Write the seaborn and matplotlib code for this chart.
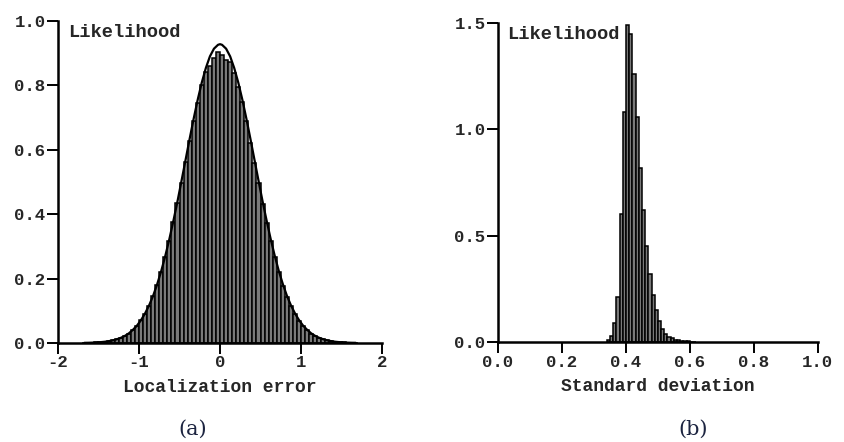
import numpy as np
import pandas as pd
import matplotlib
matplotlib.use("Agg")
import matplotlib.pyplot as plt
import seaborn as sns

# ---------------- data ----------------
# Panel (a): localization error histogram, bins of 0.05 from -1.7 to 1.7
a_bin_width = 0.05
a_bin_start = -1.7
a_left_heights = [0.0004, 0.0006, 0.0010, 0.0016, 0.0025, 0.0037, 0.0055, 0.0079,
                  0.011, 0.015, 0.021, 0.029, 0.040, 0.053, 0.070, 0.090, 0.115,
                  0.145, 0.180, 0.220, 0.268, 0.316, 0.375, 0.434, 0.496, 0.563,
                  0.628, 0.688, 0.745, 0.800, 0.842, 0.860, 0.885, 0.905]
a_right_heights = [0.895, 0.880, 0.872, 0.838, 0.795, 0.748, 0.690, 0.622, 0.560,
                   0.498, 0.431, 0.372, 0.318, 0.266, 0.219, 0.178, 0.143, 0.114,
                   0.089, 0.069, 0.052, 0.040, 0.029, 0.021, 0.015, 0.011, 0.0078,
                   0.0054, 0.0036, 0.0025, 0.0016, 0.0011, 0.0007, 0.0004]
# fitted curve (a)
a_curve_x = [-1.675, -1.625, -1.575, -1.525, -1.475, -1.425, -1.375, -1.325, -1.275,
             -1.225, -1.175, -1.125, -1.075, -1.025, -0.975, -0.925, -0.875, -0.825,
             -0.775, -0.725, -0.675, -0.625, -0.575, -0.525, -0.475, -0.425, -0.375,
             -0.325, -0.275, -0.225, -0.175, -0.125, -0.075, -0.025, 0.0,
             0.025, 0.075, 0.125, 0.175, 0.225, 0.275, 0.325, 0.375, 0.425, 0.475,
             0.525, 0.575, 0.625, 0.675, 0.725, 0.775, 0.825, 0.875, 0.925, 0.975,
             1.025, 1.075, 1.125, 1.175, 1.225, 1.275, 1.325, 1.375, 1.425, 1.475,
             1.525, 1.575, 1.625, 1.675]
a_curve_y = [0.0005, 0.0007, 0.0011, 0.0017, 0.0026, 0.0038, 0.0056, 0.008, 0.0115,
             0.016, 0.022, 0.030, 0.041, 0.054, 0.071, 0.092, 0.117, 0.147,
             0.183, 0.224, 0.271, 0.323, 0.380, 0.440, 0.504, 0.569, 0.634,
             0.697, 0.756, 0.809, 0.854, 0.890, 0.914, 0.926, 0.928,
             0.926, 0.914, 0.890, 0.854, 0.809, 0.756, 0.697, 0.634, 0.569, 0.504,
             0.440, 0.380, 0.323, 0.271, 0.224, 0.183, 0.147, 0.117, 0.092, 0.071,
             0.054, 0.041, 0.030, 0.022, 0.016, 0.0115, 0.008, 0.0056, 0.0038, 0.0026,
             0.0017, 0.0011, 0.0007, 0.0005]

# Panel (b): standard deviation histogram, bins of 0.01 from 0.34
b_bin_width = 0.01
b_bin_start = 0.34
b_heights = [0.01, 0.03, 0.09, 0.21, 0.60, 1.08, 1.49, 1.45, 1.26, 1.06, 0.82,
             0.62, 0.45, 0.32, 0.22, 0.15, 0.10, 0.06, 0.04, 0.025, 0.018, 0.012,
             0.008, 0.006, 0.004, 0.003, 0.002, 0.0015]

a_xticks = [-2, -1, 0, 1, 2]
a_xticklabels = ["-2", "-1", "0", "1", "2"]
a_yticks = [0.0, 0.2, 0.4, 0.6, 0.8, 1.0]
b_xticks = [0.0, 0.2, 0.4, 0.6, 0.8, 1.0]
b_yticks = [0.0, 0.5, 1.0, 1.5]

# ---------------- build tables ----------------
a_heights = a_left_heights + a_right_heights
a_edges = np.round(a_bin_start + a_bin_width * np.arange(len(a_heights) + 1), 4)
a_df = pd.DataFrame({"x": (a_edges[:-1] + a_edges[1:]) / 2, "w": a_heights})
a_curve = pd.DataFrame({"x": a_curve_x, "y": a_curve_y})

b_edges = np.round(b_bin_start + b_bin_width * np.arange(len(b_heights) + 1), 4)
b_df = pd.DataFrame({"x": (b_edges[:-1] + b_edges[1:]) / 2, "w": b_heights})

# ---------------- style ----------------
sns.set_theme(style="ticks")
FONT = ["Liberation Mono", "DejaVu Sans Mono"]
plt.rcParams["font.family"] = FONT
plt.rcParams["font.weight"] = "bold"

fig = plt.figure(figsize=(8.44, 4.42), dpi=100)
ax_a = fig.add_axes([0.0687, 0.224, 0.384, 0.7285])
ax_b = fig.add_axes([0.590, 0.226, 0.379, 0.722])

bar_kw = dict(stat="count", color="#7a7a7a", edgecolor="black", linewidth=1.1, alpha=1.0)

sns.histplot(data=a_df, x="x", weights="w", bins=a_edges.tolist(), ax=ax_a, **bar_kw)
sns.lineplot(data=a_curve, x="x", y="y", ax=ax_a, color="black", linewidth=1.6)
sns.histplot(data=b_df, x="x", weights="w", bins=b_edges.tolist(), ax=ax_b, **bar_kw)

for ax, xt, yt, xl, yl, xlab in [
    (ax_a, a_xticks, a_yticks, (-2, 2), (0, 1.0), "Localization error"),
    (ax_b, b_xticks, b_yticks, (0, 1.0), (0, 1.5), "Standard deviation"),
]:
    ax.set_xlim(*xl)
    ax.set_ylim(*yl)
    sns.despine(ax=ax)
    for s in ["left", "bottom"]:
        ax.spines[s].set_linewidth(1.8)
        ax.spines[s].set_color("black")
    ax.set_xticks(xt)
    ax.set_yticks(yt)
    ax.tick_params(axis="both", direction="out", length=8, width=1.4, color="black",
                   labelsize=12.5, pad=1)
    ax.set_ylabel("")
    ax.set_xlabel(xlab, fontsize=13, fontweight="bold", labelpad=6)
    ax.text(0.03, 0.99, "Likelihood", transform=ax.transAxes, ha="left", va="top",
            fontsize=13.5, fontweight="bold")

ax_a.set_xticklabels(a_xticklabels, fontweight="bold")
ax_a.set_yticklabels([f"{v:.1f}" for v in a_yticks], fontweight="bold")
ax_b.set_xticklabels([f"{v:.1f}" for v in b_xticks], fontweight="bold")
ax_b.set_yticklabels([f"{v:.1f}" for v in b_yticks], fontweight="bold")

fig.text(193 / 844, 1 - 429 / 442, "(a)", ha="center", va="center", fontsize=15,
         fontweight="normal", family="DejaVu Serif", color="#1c2440")
fig.text(693 / 844, 1 - 429 / 442, "(b)", ha="center", va="center", fontsize=15,
         fontweight="normal", family="DejaVu Serif", color="#1c2440")

fig.savefig("out.png", dpi=100)
